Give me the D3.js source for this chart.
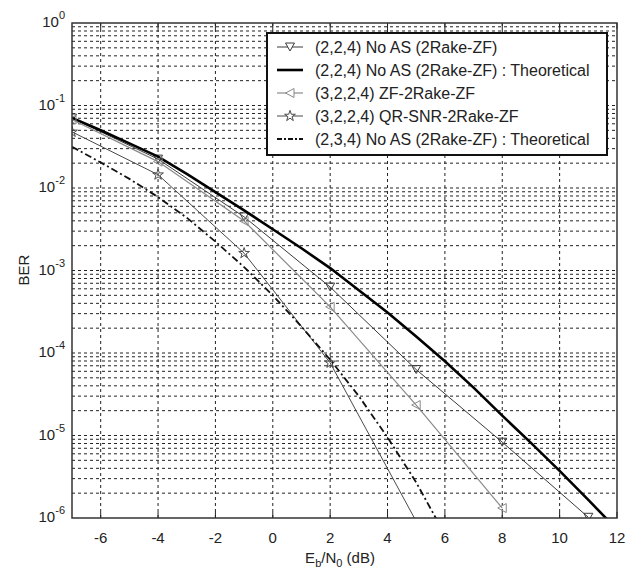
<!DOCTYPE html>
<html>
<head>
<meta charset="utf-8">
<script src="https://cdn.jsdelivr.net/npm/d3@7"></script>
<style>
  body { margin: 0; background: #fff; }
  text { font-family: "Liberation Sans", Arial, sans-serif; fill: #222; }
  .grid line { stroke: #222; stroke-width: 1; stroke-dasharray: 3,3; }
</style>
</head>
<body>
<svg width="634" height="576"></svg>
<script>
// x positions (dB)
const snrSim = [-7, -4, -1, 2, 5, 8, 11];
const snrZF = [-7, -4, -1, 2, 5, 8];
const snrQR = [-7, -4, -1, 2, 5];
const snrTheory224 = [-7, -6, -5, -4, -3, -2, -1, 0, 1, 2, 3, 4, 5, 6, 7, 8, 9, 10, 11, 12];
const snrTheory234 = [-7, -6, -5, -4, -3, -2, -1, 0, 1, 2, 3, 4, 5, 6];

// BER values
const berNoAS = [0.0705, 0.0224, 0.00447, 6.3e-4, 6.3e-5, 8.3e-6, 1.02e-6];
const berNoASTheory = [0.0708, 0.0501, 0.0347, 0.0240, 0.0148, 0.00891, 0.00537, 0.00316, 0.00186, 0.00107,
  5.75e-4, 3.09e-4, 1.58e-4, 7.94e-5, 3.80e-5, 1.74e-5, 8.13e-6, 3.72e-6, 1.66e-6, 7.24e-7];
const berZF = [0.0676, 0.0209, 0.00398, 3.63e-4, 2.34e-5, 1.32e-6];
const berQR = [0.0479, 0.0145, 0.00162, 7.6e-5, 9.1e-7];
const ber234Theory = [0.0316, 0.0204, 0.0129, 0.00776, 0.00437, 0.00224, 0.0011, 5.0e-4, 2.09e-4, 8.3e-5,
  3.0e-5, 9.5e-6, 2.7e-6, 6.3e-7];

const xTicks = [-6, -4, -2, 0, 2, 4, 6, 8, 10, 12];
const yExps = [0, -1, -2, -3, -4, -5, -6];
const legendLabels = [
  "(2,2,4) No AS (2Rake-ZF)",
  "(2,2,4) No AS (2Rake-ZF) : Theoretical",
  "(3,2,2,4) ZF-2Rake-ZF",
  "(3,2,2,4) QR-SNR-2Rake-ZF",
  "(2,3,4) No AS (2Rake-ZF) : Theoretical"
];

const svg = d3.select("svg");
const margin = { top: 23, right: 17, bottom: 58, left: 72 };
const width = 634 - margin.left - margin.right;
const height = 576 - margin.top - margin.bottom;
const g = svg.append("g").attr("transform", `translate(${margin.left},${margin.top})`);

const x = d3.scaleLinear().domain([-7, 12]).range([0, width]);
const y = d3.scaleLog().domain([1e-6, 1]).range([height, 0]);

svg.append("defs").append("clipPath").attr("id", "clip")
  .append("rect").attr("width", width).attr("height", height);

// grid: major x, major + minor y
const grid = g.append("g").attr("class", "grid");
grid.selectAll(".gx").data(xTicks.filter(d => d < 12)).join("line")
  .attr("x1", d => x(d)).attr("x2", d => x(d))
  .attr("y1", 0).attr("y2", height);
const minorY = [];
for (let e = -6; e < 0; e++) {
  for (let m = 1; m < 10; m++) minorY.push(m * Math.pow(10, e));
}
grid.selectAll(".gy").data(minorY.filter(v => v > 1e-6)).join("line")
  .attr("x1", 0).attr("x2", width)
  .attr("y1", d => y(d)).attr("y2", d => y(d));

// axis ticks (inside, MATLAB style)
const ticks = g.append("g").attr("stroke", "#222");
xTicks.forEach(d => {
  ticks.append("line").attr("x1", x(d)).attr("x2", x(d)).attr("y1", height).attr("y2", height - 6);
  ticks.append("line").attr("x1", x(d)).attr("x2", x(d)).attr("y1", 0).attr("y2", 6);
});

// tick labels
g.append("g").selectAll("text").data(xTicks).join("text")
  .attr("x", d => x(d)).attr("y", height + 25)
  .attr("text-anchor", "middle").attr("font-size", 15)
  .text(d => d);

const yl = g.append("g").selectAll("text").data(yExps).join("text")
  .attr("x", -7).attr("y", d => y(Math.pow(10, d)) + 4)
  .attr("text-anchor", "end").attr("font-size", 15);
yl.append("tspan").text("10");
yl.append("tspan").attr("dy", -8).attr("font-size", 11).text(d => d);

// axis labels
const xl = svg.append("text").attr("x", 340).attr("y", 563)
  .attr("text-anchor", "middle").attr("font-size", 15);
xl.append("tspan").text("E");
xl.append("tspan").attr("dy", 4).attr("font-size", 11).text("b");
xl.append("tspan").attr("dy", -4).text("/N");
xl.append("tspan").attr("dy", 4).attr("font-size", 11).text("0");
xl.append("tspan").attr("dy", -4).text(" (dB)");

svg.append("text").attr("transform", "translate(29,270) rotate(-90)")
  .attr("text-anchor", "middle").attr("font-size", 15).text("BER");

// markers
const downTri = "M-4.5,-4L4.5,-4L0,4Z";
const leftTri = "M-4.5,0L4,-4.5L4,4.5Z";
const star = d3.symbol().type(d3.symbolStar).size(36)();

const series = [
  { xs: snrSim, ys: berNoAS, color: "#3a3a3a", w: 1, dash: null, marker: downTri },
  { xs: snrTheory224, ys: berNoASTheory, color: "#000", w: 2.6, dash: null, marker: null },
  { xs: snrZF, ys: berZF, color: "#8a8a8a", w: 1.2, dash: null, marker: leftTri },
  { xs: snrQR, ys: berQR, color: "#4a4a4a", w: 1, dash: null, marker: star },
  { xs: snrTheory234, ys: ber234Theory, color: "#111", w: 1.8, dash: "7,3,2,3", marker: null }
];

const line = d3.line().x(d => x(d[0])).y(d => y(d[1]));
const plot = g.append("g").attr("clip-path", "url(#clip)");

series.forEach(s => {
  const pts = s.xs.map((v, i) => [v, s.ys[i]]);
  plot.append("path").datum(pts)
    .attr("fill", "none").attr("stroke", s.color)
    .attr("stroke-width", s.w).attr("stroke-dasharray", s.dash)
    .attr("d", line);
  if (s.marker) {
    plot.selectAll(null).data(pts.filter(p => p[1] >= 1e-6)).join("path")
      .attr("transform", p => `translate(${x(p[0])},${y(p[1])})`)
      .attr("d", s.marker).attr("fill", "none")
      .attr("stroke", s.color).attr("stroke-width", 1);
  }
});

// plot frame
g.append("rect").attr("width", width).attr("height", height)
  .attr("fill", "none").attr("stroke", "#333").attr("stroke-width", 1.5);

// legend
const lg = svg.append("g").attr("transform", "translate(267,33)");
lg.append("rect").attr("width", 340).attr("height", 122)
  .attr("fill", "#fff").attr("stroke", "#111").attr("stroke-width", 2);
series.forEach((s, i) => {
  const ly = 14 + i * 23;
  lg.append("line").attr("x1", 10).attr("x2", 36).attr("y1", ly).attr("y2", ly)
    .attr("stroke", s.color).attr("stroke-width", s.w).attr("stroke-dasharray", s.dash ? "5,2,2,2" : null);
  if (s.marker) {
    lg.append("path").attr("transform", `translate(23,${ly})`)
      .attr("d", s.marker).attr("fill", "#fff").attr("stroke", s.color);
  }
  lg.append("text").attr("x", 48).attr("y", ly + 5.5)
    .attr("font-size", 16).text(legendLabels[i]);
});
</script>
</body>
</html>
